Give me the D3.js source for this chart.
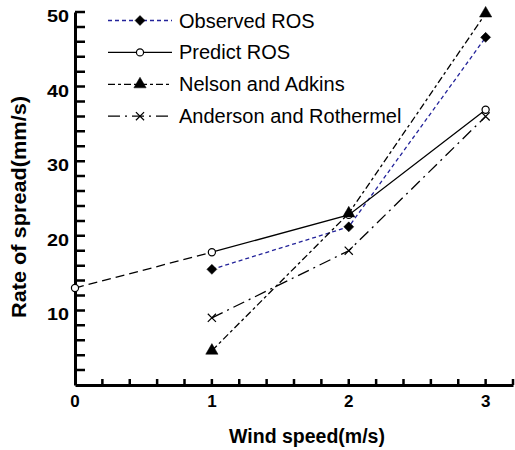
<!DOCTYPE html>
<html>
<head>
<meta charset="utf-8">
<script src="https://cdn.jsdelivr.net/npm/d3@7"></script>
<style>
  body { margin: 0; background: #fff; }
  svg { display: block; font-family: "Liberation Sans", Arial, sans-serif; }
</style>
</head>
<body>
<div id="chart"></div>
<script>
// wind speed values (m/s)
const windSpeed = [0, 1, 2, 3];
const observedROS = [null, 15.5, 21.2, 46.6];
const predictROS = [13.0, 17.8, 22.8, 36.9];
const nelsonAdkins = [null, 4.6, 23.0, 49.8];
const andersonRothermel = [null, 9.0, 18.0, 36.0];
const xTicks = [0, 1, 2, 3];
const yTicks = [10, 20, 30, 40, 50];
const xMinorTicks = [0.2, 0.4, 0.6, 0.8, 1, 1.2, 1.4, 1.6, 1.8, 2, 2.2, 2.4, 2.6, 2.8, 3, 3.2];
const yMinorTicks = [2, 4, 6, 8, 10, 12, 14, 16, 18, 20, 22, 24, 26, 28, 30, 32, 34, 36, 38, 40, 42, 44, 46, 48, 50];

const diamond = {
    draw(ctx, size) {
        const r = Math.sqrt(size / 2);
        ctx.moveTo(0, -r); ctx.lineTo(r, 0); ctx.lineTo(0, r); ctx.lineTo(-r, 0); ctx.closePath();
    }
};

const series = [
    { name: 'Observed ROS', values: observedROS, color: '#23239a', dash: '4,3', symbol: diamond, size: 50, fill: true },
    { name: 'Predict ROS', values: predictROS, color: '#000', dash: null, firstDash: '9,5', symbol: d3.symbolCircle, size: 40, fill: false },
    { name: 'Nelson and Adkins', values: nelsonAdkins, color: '#000', dash: '7,3,3,3', symbol: d3.symbolTriangle, size: 65, fill: true },
    { name: 'Anderson and Rothermel', values: andersonRothermel, color: '#000', dash: '12,5,2,5', symbol: d3.symbolTimes, size: 45, fill: false }
];

const width = 515, height = 450;
const svg = d3.select('#chart').append('svg')
    .attr('width', width)
    .attr('height', height);

const x = d3.scaleLinear().domain([0, 3.2]).range([75, 513]);
const y = d3.scaleLinear().domain([0, 50]).range([385, 12]);

// tick marks drawn as one path each, pointing inward
const xAxis = svg.append('g')
    .attr('transform', `translate(0,${y(0)})`)
    .call(d3.axisBottom(x).tickValues(xMinorTicks).tickSize(0).tickSizeOuter(0).tickFormat(''));
const yAxis = svg.append('g')
    .attr('transform', `translate(${x(0)},0)`)
    .call(d3.axisLeft(y).tickValues(yMinorTicks).tickSize(0).tickSizeOuter(0).tickFormat(''));
[xAxis, yAxis].forEach(g => {
    g.select('.domain').attr('stroke', '#000').attr('stroke-width', 3);
});
svg.append('path')
    .attr('d', xMinorTicks.map(v => `M${x(v)},${y(0)}V${y(0) - 6}`).join(''))
    .attr('stroke', '#000').attr('stroke-width', 2.5).attr('fill', 'none');
svg.append('path')
    .attr('d', yMinorTicks.map(v => `M${x(0)},${y(v)}H${x(0) + 10}`).join(''))
    .attr('stroke', '#000').attr('stroke-width', 2.5).attr('fill', 'none');

svg.append('g').selectAll('text')
    .data(xTicks).enter().append('text')
    .attr('x', d => x(d))
    .attr('y', 407)
    .attr('text-anchor', 'middle')
    .attr('font-size', 17)
    .attr('font-weight', 'bold')
    .text(d => d);

svg.append('g').selectAll('text')
    .data(yTicks).enter().append('text')
    .attr('x', 69)
    .attr('y', d => y(d) + 10)
    .attr('text-anchor', 'end')
    .attr('font-size', 17)
    .attr('font-weight', 'bold')
    .attr('textLength', d => String(d).length * 11)
    .attr('lengthAdjust', 'spacingAndGlyphs')
    .text(d => d);

svg.append('text')
    .attr('x', 307).attr('y', 443)
    .attr('text-anchor', 'middle')
    .attr('font-size', 19.5)
    .attr('font-weight', 'bold')
    .text('Wind speed(m/s)');

svg.append('text')
    .attr('transform', `translate(26,207) rotate(-90)`)
    .attr('text-anchor', 'middle')
    .attr('font-size', 20)
    .attr('font-weight', 'bold')
    .attr('textLength', 222)
    .attr('lengthAdjust', 'spacingAndGlyphs')
    .text('Rate of spread(mm/s)');

// lines
const line = d3.line()
    .x(d => x(d[0]))
    .y(d => y(d[1]));

series.forEach(s => {
    const pts = windSpeed.map((w, i) => [w, s.values[i]]).filter(d => d[1] != null);
    if (s.firstDash) {
        svg.append('path')
            .attr('d', line(pts.slice(0, 2)))
            .attr('fill', 'none').attr('stroke', s.color).attr('stroke-width', 1.3)
            .attr('stroke-dasharray', s.firstDash);
        svg.append('path')
            .attr('d', line(pts.slice(1)))
            .attr('fill', 'none').attr('stroke', s.color).attr('stroke-width', 1.3);
    } else {
        svg.append('path')
            .attr('d', line(pts))
            .attr('fill', 'none').attr('stroke', s.color).attr('stroke-width', 1.3)
            .attr('stroke-dasharray', s.dash);
    }
    const sym = d3.symbol().type(s.symbol).size(s.size);
    svg.append('g').selectAll('path')
        .data(pts).enter().append('path')
        .attr('transform', d => `translate(${x(d[0])},${y(d[1])})`)
        .attr('d', sym)
        .attr('fill', s.fill ? '#000' : '#fff')
        .attr('stroke', '#000')
        .attr('stroke-width', s.fill ? 0.5 : 1.2);
});

// legend
const legend = svg.append('g');
series.forEach((s, i) => {
    const ly = 20.5 + i * 31.9;
    legend.append('line')
        .attr('x1', 108).attr('x2', 172)
        .attr('y1', ly).attr('y2', ly)
        .attr('stroke', s.color).attr('stroke-width', 1.3)
        .attr('stroke-dasharray', s.dash);
    legend.append('path')
        .attr('transform', `translate(140,${ly})`)
        .attr('d', d3.symbol().type(s.symbol).size(s.size))
        .attr('fill', s.fill ? '#000' : '#fff')
        .attr('stroke', '#000')
        .attr('stroke-width', s.fill ? 0.5 : 1.2);
    legend.append('text')
        .attr('x', 179).attr('y', ly + 7)
        .attr('font-size', 20)
        .text(s.name);
});
</script>
</body>
</html>
